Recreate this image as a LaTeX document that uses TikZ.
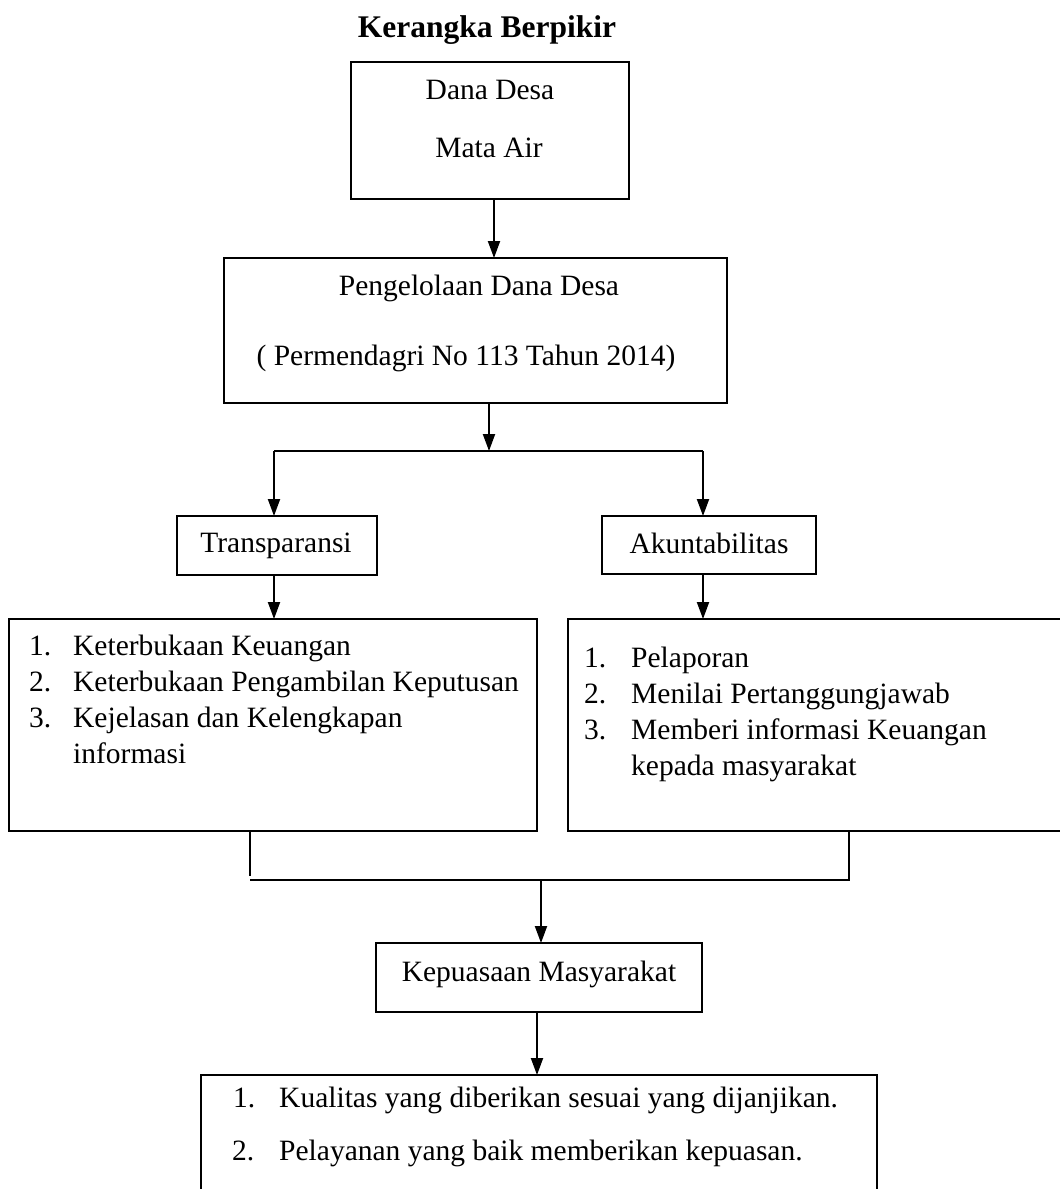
\documentclass[tikz,border=0pt]{standalone}
\usepackage{fontspec}
\setmainfont{Liberation Serif}
\usetikzlibrary{arrows.meta}
\tikzset{
  boxnode/.style={draw, line width=1.1pt, inner sep=0pt, outer sep=0pt, anchor=north west},
  txt/.style={inner sep=0pt, font=\fontsize{29.5}{35}\selectfont},
  arr/.style={line width=2pt, -{Triangle[length=17pt,width=12pt]}},
  conn/.style={line width=1.1pt},
}
\begin{document}
\begin{tikzpicture}[x=1pt,y=-1pt]
\useasboundingbox (0,0) rectangle (1060,1189);
\clip (0,0) rectangle (1060,1189);
\fill[white] (0,0) rectangle (1060,1189);

% title
\node[inner sep=0pt, anchor=base, font=\bfseries\fontsize{31.5}{36}\selectfont] (title) at (487,37) {Kerangka Berpikir};

% boxes
\node[boxnode, minimum width=278pt, minimum height=137pt] (b1) at (351,62) {};
\node[boxnode, minimum width=503pt, minimum height=145pt] (b2) at (224,258) {};
\node[boxnode, minimum width=200pt, minimum height=59pt] (tr) at (177,516) {};
\node[boxnode, minimum width=214pt, minimum height=58pt] (ak) at (602,516) {};
\node[boxnode, minimum width=528pt, minimum height=212pt] (lb) at (9,619) {};
\node[boxnode, minimum width=520pt, minimum height=212pt] (rb) at (568,619) {};
\node[boxnode, minimum width=326pt, minimum height=69pt] (kp) at (376,943) {};
\node[boxnode, minimum width=676pt, minimum height=150pt] (bb) at (201,1075) {};

% texts
\node[txt, anchor=base] (t1a) at (490,99) {Dana Desa};
\node[txt, anchor=base] (t1b) at (489,157) {Mata Air};
\node[txt, anchor=base] (t2a) at (479,295) {Pengelolaan Dana Desa};
\node[txt, anchor=base] (t2b) at (466,365) {( Permendagri No 113 Tahun 2014)};
\node[txt, anchor=base] (ttr) at (276,552) {Transparansi};
\node[txt, anchor=base] (tak) at (709,553) {Akuntabilitas};
\node[txt, anchor=base] (tkp) at (539,981) {Kepuasaan Masyarakat};

% left list
\node[txt, anchor=base west] (ln1) at (29,655) {1.};
\node[txt, anchor=base west] (lt1) at (73,655) {Keterbukaan Keuangan};
\node[txt, anchor=base west] (ln2) at (29,691) {2.};
\node[txt, anchor=base west] (lt2) at (73,691) {Keterbukaan Pengambilan Keputusan};
\node[txt, anchor=base west] (ln3) at (29,727) {3.};
\node[txt, anchor=base west] (lt3) at (73,727) {Kejelasan dan Kelengkapan};
\node[txt, anchor=base west] (lt4) at (73,763) {informasi};

% right list
\node[txt, anchor=base west] (rn1) at (584,667) {1.};
\node[txt, anchor=base west] (rt1) at (631,667) {Pelaporan};
\node[txt, anchor=base west] (rn2) at (584,703) {2.};
\node[txt, anchor=base west] (rt2) at (631,703) {Menilai Pertanggungjawab};
\node[txt, anchor=base west] (rn3) at (584,739) {3.};
\node[txt, anchor=base west] (rt3) at (631,739) {Memberi informasi Keuangan};
\node[txt, anchor=base west] (rt4) at (631,775) {kepada masyarakat};

% bottom list
\node[txt, anchor=base west] (bn1) at (233,1107) {1.};
\node[txt, anchor=base west] (bt1) at (279,1107) {Kualitas yang diberikan sesuai yang dijanjikan.};
\node[txt, anchor=base west] (bn2) at (232,1160) {2.};
\node[txt, anchor=base west] (bt2) at (279,1160) {Pelayanan yang baik memberikan kepuasan.};

% connector coordinates
\coordinate (c1) at (494,0);
\coordinate (c2) at (489,0);
\coordinate (sp) at (489,451);
\coordinate (sl) at (274,451);
\coordinate (sr) at (703,451);
\coordinate (m1) at (250,880);
\coordinate (m2) at (849,880);
\coordinate (mj) at (541,880);
\coordinate (c5) at (537,0);

% connectors
\draw[arr] (b1.south -| c1) -- (b2.north -| c1);
\draw[arr] (b2.south -| c2) -- (sp);
\draw[line width=2pt] (sl) -- (sr);
\draw[arr] (sl) -- (tr.north -| sl);
\draw[arr] (sr) -- (ak.north -| sr);
\draw[arr] (tr.south -| sl) -- (lb.north -| sl);
\draw[arr] (ak.south -| sr) -- (rb.north -| sr);
\draw[conn] (lb.south -| m1) -- ([yshift=4pt]m1);
\draw[conn] (m1) -- (m2) -- (rb.south -| m2);
\draw[arr] (mj) -- (kp.north -| mj);
\draw[arr] (kp.south -| c5) -- (bb.north -| c5);
\end{tikzpicture}
\end{document}
